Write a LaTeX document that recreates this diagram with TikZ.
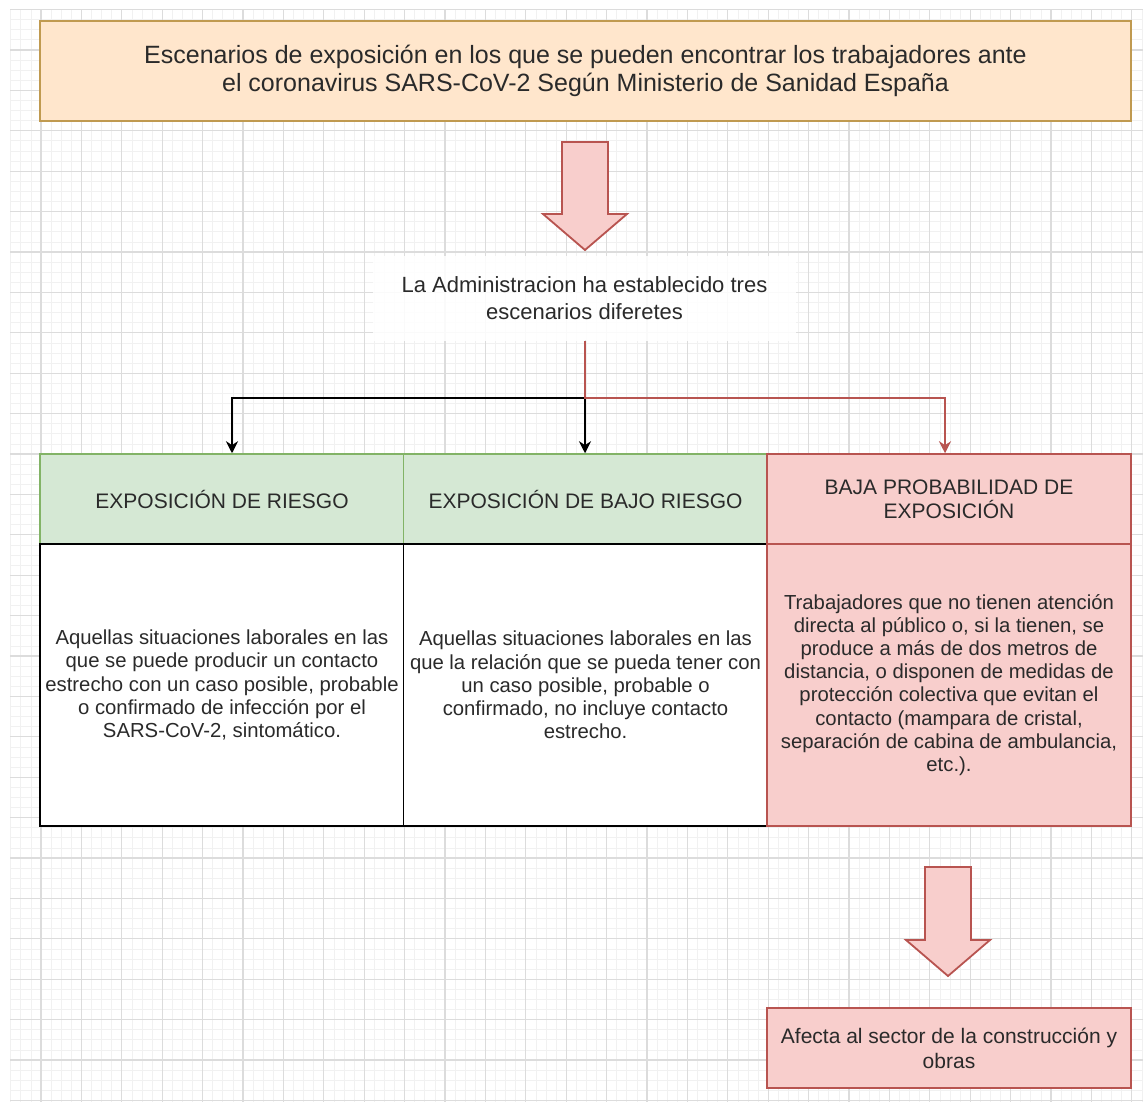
\documentclass[tikz,border=0pt]{standalone}
\usepackage{fontspec}
\setmainfont{Liberation Sans}
\usetikzlibrary{arrows.meta}
\definecolor{orfill}{HTML}{FFE6CC}
\definecolor{ordraw}{HTML}{C09A50}
\definecolor{grfill}{HTML}{D5E8D4}
\definecolor{grdraw}{HTML}{82B366}
\definecolor{rdfill}{HTML}{F8CECC}
\definecolor{rddraw}{HTML}{B85450}
\definecolor{txt}{HTML}{2A2A2A}
\definecolor{gridminor}{HTML}{F1F1F1}
\definecolor{gridmajor}{HTML}{DCDCDC}
\tikzset{
  box/.style={draw, line width=1.5pt, inner sep=0pt, align=center, text=txt},
  titlebox/.style={box, fill=orfill, draw=ordraw, minimum width=1091pt, minimum height=100pt, font=\fontsize{25}{28}\selectfont},
  greenhead/.style={box, fill=grfill, draw=grdraw, minimum width=364pt, minimum height=90pt, font=\fontsize{21}{24}\selectfont},
  redhead/.style={box, fill=rdfill, draw=rddraw, minimum width=364pt, minimum height=90pt, font=\fontsize{21}{24}\selectfont},
  whitebody/.style={box, fill=white, draw=black, minimum width=364pt, minimum height=282pt, font=\fontsize{20.3}{23.2}\selectfont},
  redbody/.style={box, fill=rdfill, draw=rddraw, minimum width=364pt, minimum height=282pt, font=\fontsize{20.3}{23.2}\selectfont},
  redbox/.style={box, fill=rdfill, draw=rddraw, minimum width=364pt, minimum height=80pt, font=\fontsize{21}{25}\selectfont},
  labelbox/.style={fill=white, fill opacity=0.88, text opacity=1, text=txt, align=center, inner sep=0pt, minimum width=423pt, minimum height=85pt, font=\fontsize{22}{27}\selectfont},
  blockarrow/.style={fill=rdfill, draw=rddraw, line width=1.8pt, line join=miter},
  blackconn/.style={draw=black, line width=2.4pt, -{Stealth[length=12pt,width=12pt]}},
  redconn/.style={draw=rddraw, line width=2.4pt, -{Stealth[length=12pt,width=12pt]}},
}
\begin{document}
\begin{tikzpicture}[x=1pt,y=-1pt]
\useasboundingbox (0,0) rectangle (1143,1102);
\fill[white] (0,0) rectangle (1143,1102);
% grid
\begin{scope}
\clip (10,10) rectangle (1143,1102);
\foreach \k in {-3,...,110} {\draw[gridminor, line width=0.8pt] ({41+10.1*\k},10) -- ({41+10.1*\k},1102);}
\foreach \k in {0,...,108} {\draw[gridminor, line width=0.8pt] (10,{9.6+10.1*\k}) -- (1143,{9.6+10.1*\k});}
\foreach \k in {-1,...,28} {\draw[gridmajor, line width=1.1pt] ({41+40.4*\k},10) -- ({41+40.4*\k},1102);}
\foreach \k in {0,...,27} {\draw[gridmajor, line width=1.1pt] (10,{9.6+40.4*\k}) -- (1143,{9.6+40.4*\k});}
\end{scope}

% title
\node[titlebox] (title) at (585.5,71) {Escenarios de exposición en los que se pueden encontrar los trabajadores ante\\el coronavirus SARS-CoV-2 Según Ministerio de Sanidad España};

% top block arrow
\draw[blockarrow] (562,142) -- (608,142) -- (608,214) -- (627,214) -- (585,250) -- (543,214) -- (562,214) -- cycle;

% admin label
\node[labelbox] (admin) at (584.5,298) {La Administracion ha establecido tres\\escenarios diferetes};

% headers
\node[greenhead] (h1) at (222,499) {EXPOSICIÓN DE RIESGO};
\node[greenhead] (h2) at (585.5,499) {EXPOSICIÓN DE BAJO RIESGO};
\node[redhead] (h3) at (949,499) {BAJA PROBABILIDAD DE\\EXPOSICIÓN};

% bodies
\node[whitebody] (b1) at (222,685) {Aquellas situaciones laborales en las\\que se puede producir un contacto\\estrecho con un caso posible, probable\\o confirmado de infección por el\\SARS-CoV-2, sintomático.};
\node[whitebody] (b2) at (585.5,685) {Aquellas situaciones laborales en las\\que la relación que se pueda tener con\\un caso posible, probable o\\confirmado, no incluye contacto\\estrecho.};
\node[redbody] (b3) at (949,685) {Trabajadores que no tienen atención\\directa al público o, si la tienen, se\\produce a más de dos metros de\\distancia, o disponen de medidas de\\protección colectiva que evitan el\\contacto (mampara de cristal,\\separación de cabina de ambulancia,\\etc.).};

% connectors
\coordinate (j) at (585,398);
\draw[blackconn] (admin.south -| j) -- (j) -| (h1.north -| 232,0);
\draw[blackconn] (admin.south -| j) -- (h2.north -| j);
\draw[redconn] (admin.south -| j) -- (j) -| (h3.north -| 945,0);

% bottom block arrow
\draw[blockarrow] (925,867) -- (971,867) -- (971,940) -- (990,940) -- (948,976) -- (906,940) -- (925,940) -- cycle;

% bottom box
\node[redbox] (final) at (949,1048) {Afecta al sector de la construcción y\\obras};
\end{tikzpicture}
\end{document}
